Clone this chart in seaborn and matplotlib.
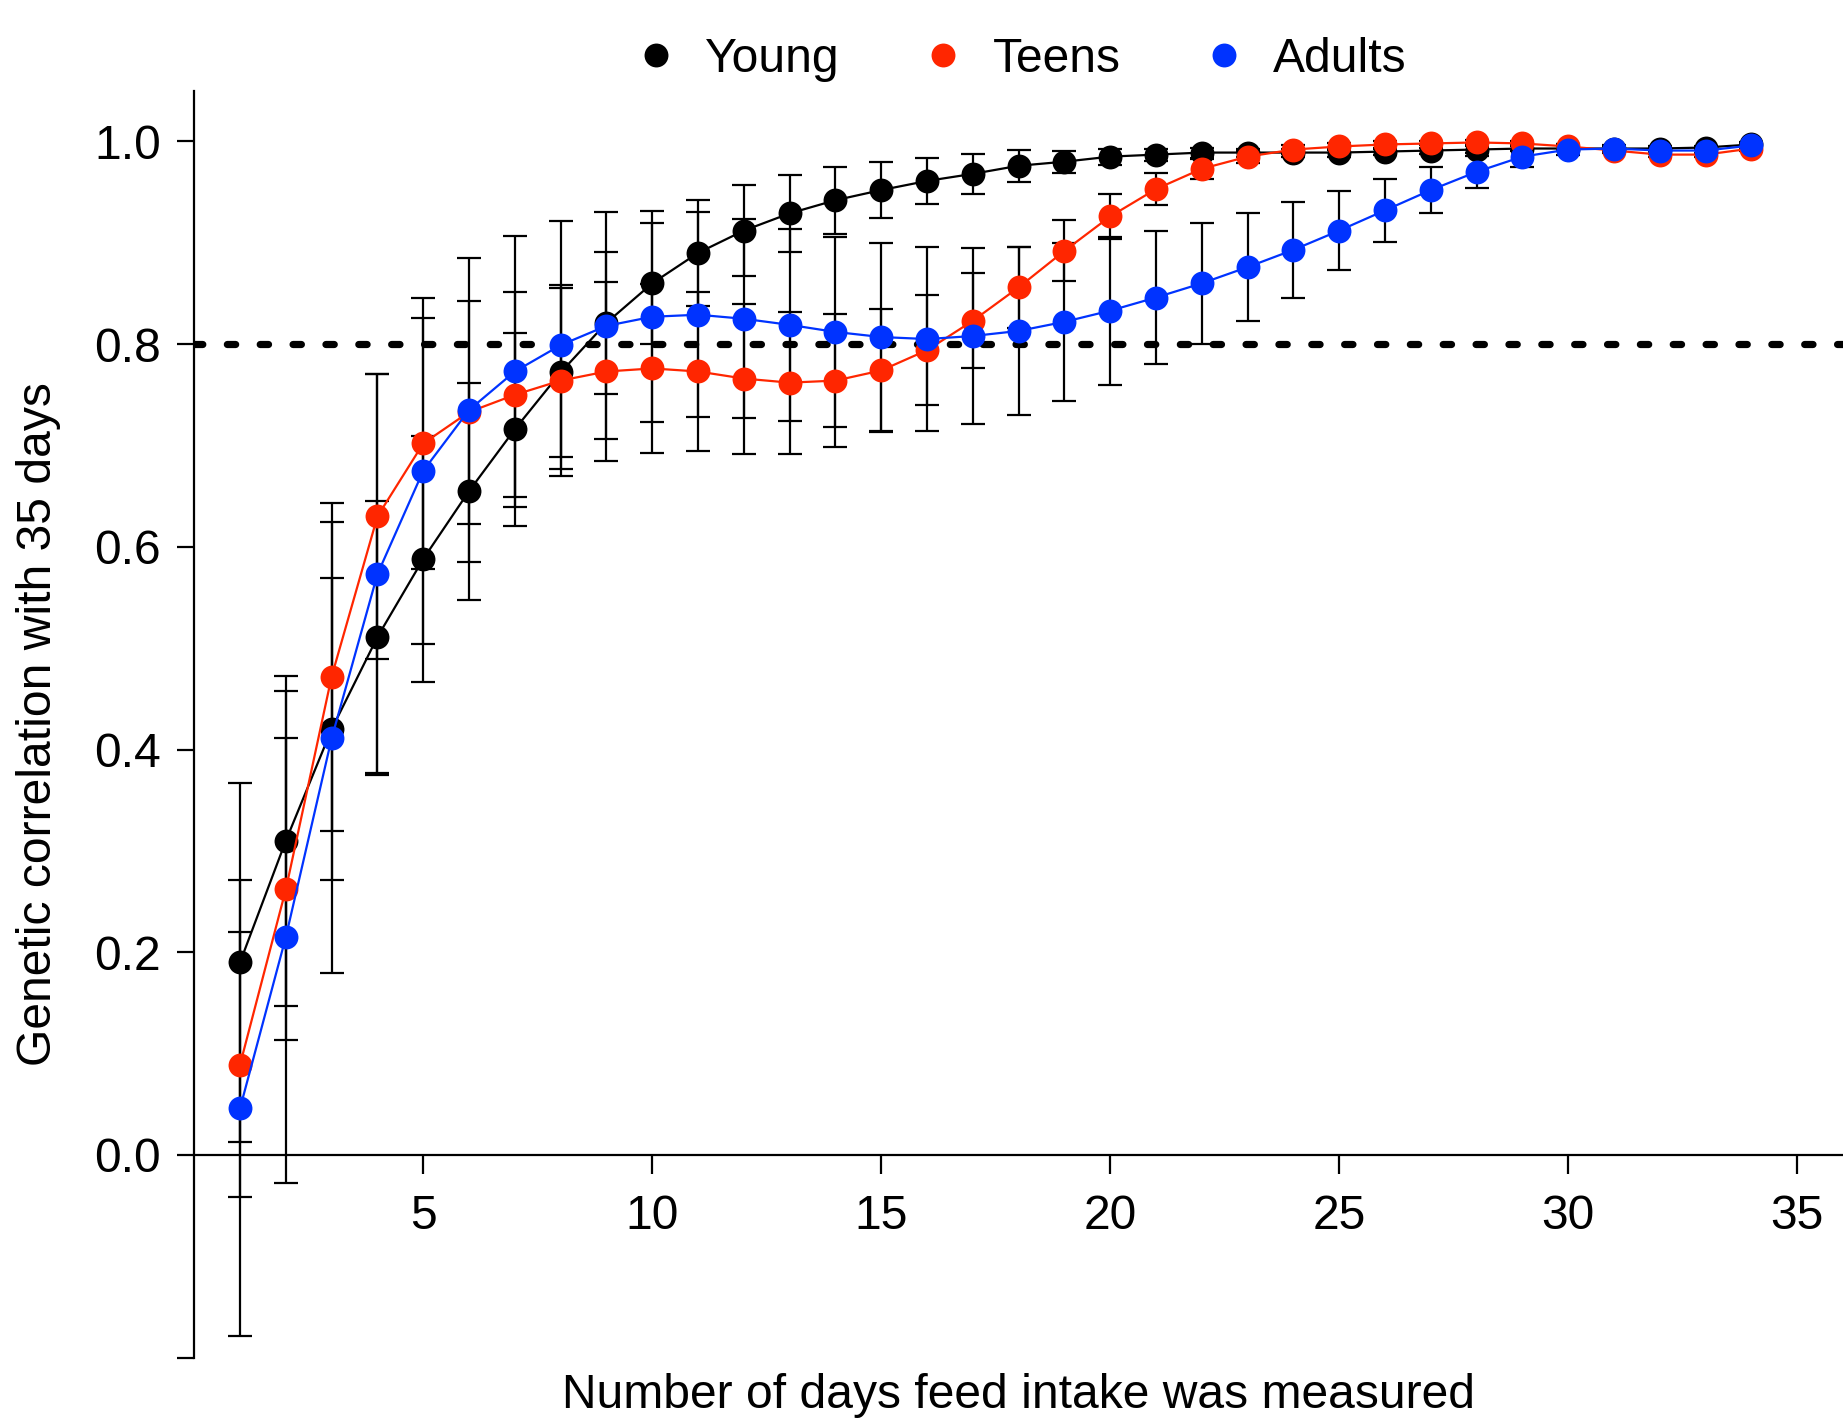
import numpy as np
import pandas as pd
import matplotlib
matplotlib.use('Agg')
import matplotlib.pyplot as plt
from matplotlib.lines import Line2D
import seaborn as sns

# Values
days = list(range(1, 35))

young = [0.190, 0.310, 0.420, 0.511, 0.588, 0.655, 0.716, 0.772, 0.821, 0.860,
         0.890, 0.912, 0.929, 0.942, 0.952, 0.961, 0.968, 0.976, 0.980, 0.985,
         0.987, 0.989, 0.989, 0.989, 0.989, 0.990, 0.991, 0.992, 0.993, 0.993,
         0.993, 0.993, 0.994, 0.997]
young_se = [0.177, 0.163, 0.149, 0.134, 0.121, 0.107, 0.095, 0.083, 0.070, 0.060,
            0.052, 0.045, 0.038, 0.033, 0.028, 0.023, 0.020, 0.016, 0.011, 0.008,
            0.006, 0.005, 0.004, 0.004, 0.004, 0.003, 0.003, 0.003, 0.002, 0.002,
            0.002, 0.002, 0.001, 0.001]

teens = [0.089, 0.262, 0.472, 0.630, 0.702, 0.733, 0.750, 0.764, 0.773, 0.776,
         0.773, 0.766, 0.762, 0.764, 0.774, 0.794, 0.823, 0.856, 0.892, 0.926,
         0.953, 0.973, 0.985, 0.992, 0.995, 0.997, 0.998, 0.999, 0.998, 0.995,
         0.991, 0.987, 0.987, 0.993]
teens_se = [0.131, 0.149, 0.152, 0.141, 0.124, 0.110, 0.101, 0.094, 0.088, 0.083,
            0.078, 0.074, 0.070, 0.066, 0.061, 0.054, 0.047, 0.040, 0.030, 0.022,
            0.016, 0.010, 0.006, 0.004, 0.003, 0.003, 0.002, 0.002, 0.002, 0.002,
            0.002, 0.002, 0.002, 0.002]

adults = [0.046, 0.215, 0.411, 0.573, 0.675, 0.735, 0.773, 0.799, 0.818, 0.827,
          0.829, 0.825, 0.819, 0.812, 0.807, 0.805, 0.808, 0.813, 0.822, 0.833,
          0.846, 0.860, 0.876, 0.893, 0.912, 0.932, 0.952, 0.970, 0.985, 0.992,
          0.993, 0.991, 0.991, 0.996]
adults_se = [0.225, 0.243, 0.232, 0.198, 0.171, 0.150, 0.134, 0.122, 0.112, 0.104,
             0.101, 0.098, 0.095, 0.094, 0.093, 0.091, 0.087, 0.083, 0.078, 0.073,
             0.066, 0.060, 0.053, 0.047, 0.039, 0.031, 0.023, 0.016, 0.010, 0.005,
             0.003, 0.003, 0.003, 0.003]

groups = ['Young', 'Teens', 'Adults']
colors = {'Young': '#000000', 'Teens': '#ff2600', 'Adults': '#0033ff'}

yticks = [-0.2, 0.0, 0.2, 0.4, 0.6, 0.8, 1.0]
ytick_labels = ['', '0.0', '0.2', '0.4', '0.6', '0.8', '1.0']
xticks = [5, 10, 15, 20, 25, 30, 35]

# long table for seaborn
df = pd.DataFrame({
    'days': days * 3,
    'rg': young + teens + adults,
    'se': young_se + teens_se + adults_se,
    'group': ['Young'] * 34 + ['Teens'] * 34 + ['Adults'] * 34,
})

sns.set_style('ticks')
plt.rcParams['font.family'] = ['Liberation Sans', 'DejaVu Sans']
plt.rcParams['font.size'] = 17.3
for key in ['text.color', 'axes.labelcolor', 'xtick.color', 'ytick.color']:
    plt.rcParams[key] = 'black'

fs = 17.3

fig = plt.figure(figsize=(9.215, 7.09), dpi=200)
ax = fig.add_axes([0.1054, 0.0426, 0.8946, 0.8934])

# error bars underneath
for g in groups:
    sub = df[df['group'] == g]
    ax.errorbar(sub['days'], sub['rg'], yerr=sub['se'], fmt='none',
                ecolor='black', elinewidth=0.8, capsize=4.3, capthick=0.8, zorder=1)

ax.axhline(0.8, color='black', linewidth=2.6, linestyle=(0, (1.15, 3.4)),
           dash_capstyle='round', zorder=1.5)

sns.lineplot(data=df, x='days', y='rg', hue='group', hue_order=groups,
             palette=colors, marker='o', markersize=8.6, markeredgewidth=0,
             linewidth=0.8, legend=False, ax=ax, zorder=2)

ax.set_xlim(0, 36)
ax.set_ylim(-0.2, 1.05)
ax.set_xticks(xticks)
ax.set_yticks(yticks)
ax.set_yticklabels(ytick_labels)

ax.spines['top'].set_visible(False)
ax.spines['right'].set_visible(False)
ax.spines['bottom'].set_position(('data', 0))
for s in ['left', 'bottom']:
    ax.spines[s].set_linewidth(0.8)
    ax.spines[s].set_color('black')
ax.tick_params(axis='y', length=6, width=0.8, pad=6, labelsize=fs)
ax.tick_params(axis='x', length=7, width=0.8, pad=7, labelsize=fs)

ax.set_xlabel('Number of days feed intake was measured', fontsize=fs)
ax.set_ylabel('Genetic correlation with 35 days', fontsize=fs)
ax.xaxis.set_label_coords(0.5, -0.012)
ax.yaxis.set_label_coords(-0.081, 0.5)

handles = [Line2D([], [], marker='o', linestyle='none', markersize=8.6,
                  markeredgewidth=0, color=colors[g]) for g in groups]
fig.legend(handles, groups, loc='center', bbox_to_anchor=(0.553, 0.958),
           ncol=3, frameon=False, fontsize=fs, handlelength=1.0,
           handletextpad=0.53, columnspacing=1.65)

fig.savefig('out.png', dpi=200)
